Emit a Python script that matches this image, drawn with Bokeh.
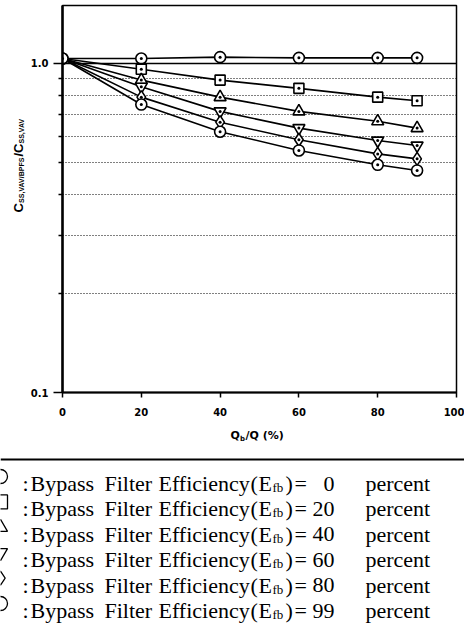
import numpy as np
from bokeh.plotting import figure
from bokeh.layouts import column, row
from bokeh.models import Range1d, FixedTicker, Span, CustomJSTickFormatter
from bokeh.core.properties import value
from bokeh.embed import file_html
from bokeh.resources import INLINE

# ---------------- data ----------------
flow_ratio = [0, 20, 40, 60, 80, 90]          # Qb/Q (%)
efficiencies = [0, 20, 40, 60, 80, 99]        # bypass filter efficiency (%)
ratio_e0 = [1.035, 1.035, 1.045, 1.04, 1.04, 1.04]
ratio_e20 = [1.035, 0.96, 0.89, 0.84, 0.79, 0.77]
ratio_e40 = [1.035, 0.89, 0.79, 0.715, 0.667, 0.636]
ratio_e60 = [1.035, 0.85, 0.715, 0.636, 0.583, 0.563]
ratio_e80 = [1.035, 0.79, 0.663, 0.586, 0.531, 0.513]
ratio_e99 = [1.035, 0.75, 0.62, 0.544, 0.492, 0.473]
series = [ratio_e0, ratio_e20, ratio_e40, ratio_e60, ratio_e80, ratio_e99]
markers = ["circle", "square", "triangle", "inverted_triangle", "diamond", "circle"]
marker_sizes = [11, 10, 12, 12, 13, 11]

x_ticks = [0, 20, 40, 60, 80, 100]
y_major_ticks = [0.1, 1.0]
y_minor_ticks = [0.2, 0.3, 0.4, 0.5, 0.6, 0.7, 0.8, 0.9]

TOP_H = 422
TITLE_W = 26


def blank_fig(w, h):
    # pixel-like coordinates: x from left, y from bottom
    f = figure(width=w, height=h, x_range=Range1d(0, w), y_range=Range1d(0, h),
               output_backend="svg", toolbar_location=None,
               x_axis_location=None, y_axis_location=None,
               min_border_left=0, min_border_right=0, min_border_top=0, min_border_bottom=0)
    f.grid.visible = False
    f.outline_line_color = None
    f.background_fill_color = "white"
    f.border_fill_color = "white"
    f.frame_align = False
    return f


# ---------------- main plot ----------------
p = figure(width=464 - TITLE_W, height=TOP_H, x_range=Range1d(0, 100), y_range=Range1d(0.1, 1.5),
           y_axis_type="log", output_backend="svg", toolbar_location=None,
           min_border_left=62 - TITLE_W, min_border_right=8, min_border_top=5,
           min_border_bottom=TOP_H - 392)
p.frame_align = False
p.background_fill_color = "white"
p.border_fill_color = "white"
p.outline_line_color = "black"
p.outline_line_width = 1.5

xa = p.xaxis[0]
xa.ticker = FixedTicker(ticks=x_ticks, minor_ticks=[])
xa.axis_line_width = 2
xa.major_tick_out = 5
xa.major_tick_in = 0
xa.major_tick_line_width = 1.5
xa.minor_tick_out = 0
xa.minor_tick_in = 0
xa.major_label_standoff = 10
xa.major_label_text_font = "DejaVu Sans"
xa.major_label_text_font_style = "bold"
xa.major_label_text_font_size = "10px"
xa.major_label_text_color = "black"

ya = p.yaxis[0]
ya.ticker = FixedTicker(ticks=y_major_ticks, minor_ticks=y_minor_ticks)
ya.formatter = CustomJSTickFormatter(code="return tick.toFixed(1);")
ya.axis_line_width = 2.5
ya.major_tick_out = 9
ya.major_tick_in = 0
ya.major_tick_line_width = 1.5
ya.minor_tick_out = 4
ya.minor_tick_in = 0
ya.minor_tick_line_width = 1.5
ya.major_label_standoff = 5
ya.major_label_text_font = "DejaVu Sans"
ya.major_label_text_font_style = "bold"
ya.major_label_text_font_size = "10px"
ya.major_label_text_color = "black"

p.xgrid.visible = False
p.ygrid.ticker = FixedTicker(ticks=y_minor_ticks)
p.ygrid.grid_line_color = "black"
p.ygrid.grid_line_width = 1.1
p.ygrid.grid_line_dash = "1 2"

p.add_layout(Span(location=1.0, dimension="width", line_color="black", line_width=1.5))

for vals in series:
    p.line(flow_ratio, vals, line_color="black", line_width=1.6)

for vals, mk, sz in zip(series, markers, marker_sizes):
    start = 0 if mk == "circle" else 1
    p.scatter(flow_ratio[start:], vals[start:], marker=mk, size=sz,
              fill_color="white", line_color="black", line_width=1.6)
    p.scatter(flow_ratio[start:], vals[start:], marker="circle", size=3,
              fill_color="black", line_color=None)

# ---------------- y axis title panel: C_{SS,VAV/BPFS}/C_{SS,VAV} ----------------
yt = blank_fig(TITLE_W, TOP_H)
sans = value("Liberation Sans")
rot = np.pi / 2
for txt, px, py, fs in [("C", 18, 212, "13px"), ("SS,VAV/BPFS", 21, 202.4, "7px"),
                        ("/C", 18, 156, "13px"), ("SS,VAV", 21, 143, "7px")]:
    yt.text(x=[px], y=[TOP_H - py], text=[txt], angle=rot, text_font=sans, text_font_style="bold",
            text_font_size=fs, text_align="left", text_baseline="alphabetic", text_color="black")

# ---------------- legend panel (with x axis title) ----------------
LH = 625 - TOP_H
lg = blank_fig(464, LH)


def down(v):
    # distance from the panel's top edge -> panel y coordinate
    return LH - v


dj = value("DejaVu Sans")
for txt, px, py, fs in [("Q", 230, 13, "11px"), ("b", 239.5, 16, "7px"), ("/Q (%)", 245, 13, "11px")]:
    lg.text(x=[px], y=[down(py)], text=[txt], text_font=dj, text_font_style="bold", text_font_size=fs,
            text_align="left", text_baseline="alphabetic", text_color="black")

lg.add_layout(Span(location=down(37), dimension="width", line_color="black", line_width=2))

row_y = [54 + 25.4 * i for i in range(len(efficiencies))]
base_y = [y + 7 for y in row_y]

lg.scatter(x=[0] * len(row_y), y=[down(v) for v in row_y], marker=markers, size=14,
           fill_color="white", line_color="black", line_width=1.3)

serif = value("Liberation Serif")
pieces = [(":", 22), ("Bypass", 30), ("Filter", 104), ("Efficiency", 158), ("(", 250), ("E", 258),
          (")", 285), ("=", 294), ("percent", 365)]
for txt, px in pieces:
    lg.text(x=[px] * len(base_y), y=[down(b) for b in base_y], text=[txt] * len(base_y), text_font=serif,
            text_font_size="22px", text_baseline="alphabetic", text_align="left", text_color="black")
lg.text(x=[272] * len(base_y), y=[down(b + 4) for b in base_y], text=["fb"] * len(base_y), text_font=serif,
        text_font_size="13px", text_baseline="alphabetic", text_align="left", text_color="black")
lg.text(x=[334] * len(base_y), y=[down(b) for b in base_y], text=[str(e) for e in efficiencies],
        text_font=serif, text_font_size="22px", text_baseline="alphabetic", text_align="right",
        text_color="black")

layout = column(row(yt, p, spacing=0), lg, spacing=0)
open("out.html", "w").write(file_html(layout, INLINE))
